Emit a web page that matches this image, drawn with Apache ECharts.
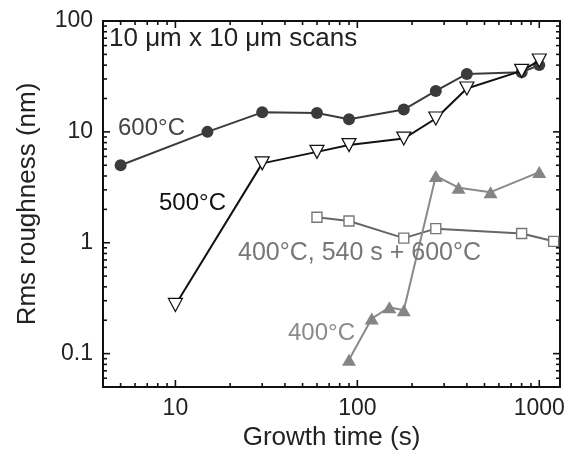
<!DOCTYPE html>
<html>
<head>
<meta charset="utf-8">
<script src="https://cdn.jsdelivr.net/npm/echarts@6/dist/echarts.min.js"></script>
<style>
html,body{margin:0;padding:0;background:#fff;}
#c{width:576px;height:457px;}
</style>
</head>
<body>
<div id="c"></div>
<script>
// ---- data ----
const t600 = [5, 15, 30, 60, 90, 180, 270, 400, 800, 1000];
const r600 = [5.0, 10.0, 15.0, 14.8, 13.0, 15.9, 23.4, 33.3, 34.5, 40];

const t500 = [10, 30, 60, 90, 180, 270, 400, 800, 1000];
const r500 = [0.275, 5.2, 6.6, 7.6, 8.7, 13.2, 24.6, 35.5, 44];

const t400 = [90, 120, 150, 180, 270, 360, 540, 1000];
const r400 = [0.088, 0.207, 0.262, 0.246, 4.0, 3.14, 2.86, 4.34];

const tAnneal = [60, 90, 180, 270, 800, 1200];
const rAnneal = [1.70, 1.57, 1.10, 1.34, 1.21, 1.03];

// tick labels / tick positions
const xMajor = [10, 100, 1000];
const xMinor = [5, 6, 7, 8, 9, 20, 30, 40, 50, 60, 70, 80, 90, 200, 300, 400, 500, 600, 700, 800, 900];
const yMajor = [0.1, 1, 10, 100];
const yMinor = [0.06, 0.07, 0.08, 0.09, 0.2, 0.3, 0.4, 0.5, 0.6, 0.7, 0.8, 0.9, 2, 3, 4, 5, 6, 7, 8, 9, 20, 30, 40, 50, 60, 70, 80, 90];

const xMin = 4, xMax = 1300, yMin = 0.05, yMax = 100;

const FONT = '"Liberation Sans", Arial, Helvetica, sans-serif';
const MAJOR_LEN = 7, MINOR_LEN = 4;
const pairs = (xs, ys) => xs.map((x, i) => [x, ys[i]]);

const chart = echarts.init(document.getElementById('c'), null, {renderer: 'canvas'});

function mainAx(dim, pos, showLabel, extra) {
  return Object.assign({
    type: 'log', logBase: 10,
    min: dim === 'x' ? xMin : yMin, max: dim === 'x' ? xMax : yMax,
    position: pos,
    axisLine: {show: true, onZero: false, lineStyle: {color: '#111', width: 2}},
    axisTick: {show: false},
    axisLabel: {show: showLabel, color: '#222', fontSize: 23, fontFamily: FONT, margin: 10,
      customValues: dim === 'x' ? xMajor : yMajor,
      formatter: v => String(v)},
    splitLine: {show: false}, minorTick: {show: false}, minorSplitLine: {show: false}
  }, extra || {});
}

// tick marks on all four frame sides, placed through the axes' own scales
function tickSeries(dim) {
  const major = dim === 'x' ? xMajor : yMajor;
  const minor = dim === 'x' ? xMinor : yMinor;
  const data = major.map(v => dim === 'x' ? [v, yMin, MAJOR_LEN] : [xMin, v, MAJOR_LEN])
    .concat(minor.map(v => dim === 'x' ? [v, yMin, MINOR_LEN] : [xMin, v, MINOR_LEN]));
  return {
    type: 'custom', xAxisIndex: 0, yAxisIndex: 0, silent: true, clip: false, z: 1,
    dimensions: ['x', 'y', 'len'], encode: {x: 0, y: 1},
    data: data,
    renderItem: function (params, api) {
      const len = api.value(2);
      const st = {stroke: '#111', lineWidth: 1.6};
      if (dim === 'x') {
        const v = api.value(0);
        const b = api.coord([v, yMin]), t = api.coord([v, yMax]);
        return {type: 'group', children: [
          {type: 'line', shape: {x1: b[0], y1: b[1], x2: b[0], y2: b[1] - len}, style: st},
          {type: 'line', shape: {x1: t[0], y1: t[1], x2: t[0], y2: t[1] + len}, style: st}
        ]};
      } else {
        const v = api.value(1);
        const l = api.coord([xMin, v]), r = api.coord([xMax, v]);
        return {type: 'group', children: [
          {type: 'line', shape: {x1: l[0], y1: l[1], x2: l[0] + len, y2: l[1]}, style: st},
          {type: 'line', shape: {x1: r[0], y1: r[1], x2: r[0] - len, y2: r[1]}, style: st}
        ]};
      }
    }
  };
}

const option = {
  backgroundColor: '#fff',
  animation: false,
  grid: {left: 103, top: 21, right: 16, bottom: 70, containLabel: false},
  xAxis: [
    mainAx('x', 'bottom', true, {
      name: 'Growth time (s)', nameLocation: 'middle', nameGap: 31,
      nameTextStyle: {color: '#222', fontSize: 26, fontFamily: FONT}
    }),
    mainAx('x', 'top', false)
  ],
  yAxis: [
    mainAx('y', 'left', true, {
      name: 'Rms roughness (nm)', nameLocation: 'middle', nameGap: 62, nameRotate: 90,
      nameTextStyle: {color: '#222', fontSize: 26, fontFamily: FONT}
    }),
    mainAx('y', 'right', false)
  ],
  series: [
    tickSeries('x'),
    tickSeries('y'),
    {
      name: '600°C', type: 'line', xAxisIndex: 0, yAxisIndex: 0,
      data: pairs(t600, r600),
      symbol: 'circle', symbolSize: 12,
      lineStyle: {color: '#3b3b3b', width: 2},
      itemStyle: {color: '#3b3b3b', borderColor: '#3b3b3b', borderWidth: 0},
      z: 2
    },
    {
      name: '500°C', type: 'line', xAxisIndex: 0, yAxisIndex: 0,
      data: pairs(t500, r500),
      symbol: 'triangle', symbolRotate: 180, symbolSize: [14, 13],
      lineStyle: {color: '#111', width: 2},
      itemStyle: {color: '#fff', borderColor: '#111', borderWidth: 1.2},
      z: 3
    },
    {
      name: '400°C, 540 s + 600°C', type: 'line', xAxisIndex: 0, yAxisIndex: 0,
      data: pairs(tAnneal, rAnneal),
      symbol: 'rect', symbolSize: 10,
      lineStyle: {color: '#666', width: 2},
      itemStyle: {color: '#fff', borderColor: '#777', borderWidth: 1.4},
      z: 4
    },
    {
      name: '400°C', type: 'line', xAxisIndex: 0, yAxisIndex: 0,
      data: pairs(t400, r400),
      symbol: 'triangle', symbolSize: [14, 12],
      lineStyle: {color: '#8a8a8a', width: 2},
      itemStyle: {color: '#858585', borderColor: '#858585', borderWidth: 0},
      z: 5
    }
  ],
  graphic: [
    {type: 'text', x: 109, y: 39, z: 10, style: {text: '10 μm x 10 μm scans', fontSize: 26, fontFamily: FONT, fill: '#222', align: 'left', verticalAlign: 'middle'}},
    {type: 'text', x: 118, y: 128, z: 10, style: {text: '600°C', fontSize: 24, fontFamily: FONT, fill: '#444', align: 'left', verticalAlign: 'middle'}},
    {type: 'text', x: 159, y: 203, z: 10, style: {text: '500°C', fontSize: 24, fontFamily: FONT, fill: '#111', align: 'left', verticalAlign: 'middle'}},
    {type: 'text', x: 238, y: 253, z: 10, style: {text: '400°C, 540 s + 600°C', fontSize: 25, fontFamily: FONT, fill: '#777', align: 'left', verticalAlign: 'middle'}},
    {type: 'text', x: 288, y: 333, z: 10, style: {text: '400°C', fontSize: 24, fontFamily: FONT, fill: '#8a8a8a', align: 'left', verticalAlign: 'middle'}}
  ]
};
chart.setOption(option);
</script>
</body>
</html>
